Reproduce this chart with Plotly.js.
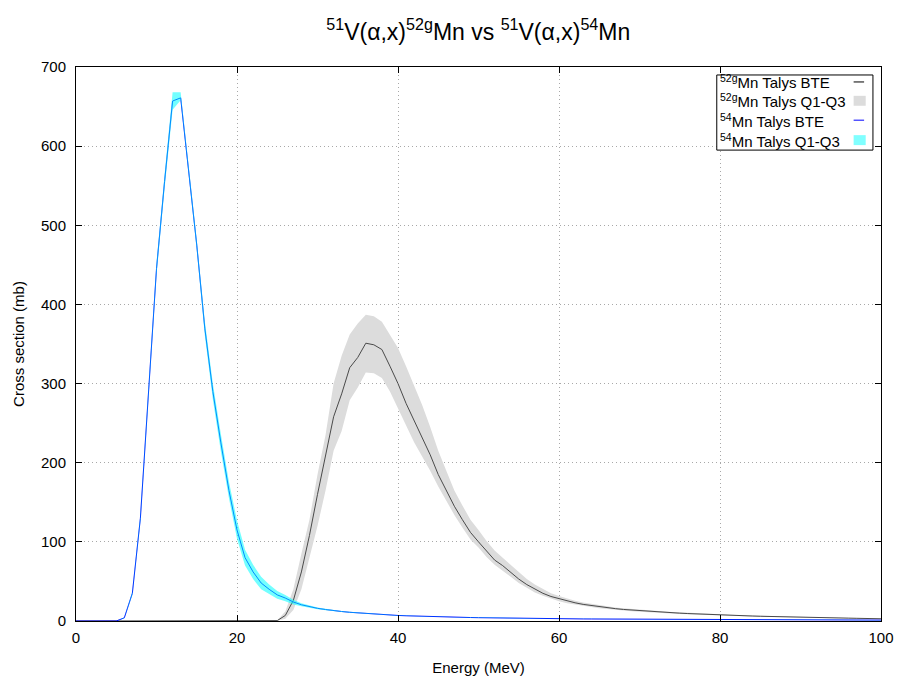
<!DOCTYPE html>
<html>
<head>
<meta charset="utf-8">
<script src="https://cdn.plot.ly/plotly-3.0.1.min.js"></script>
<style>html,body{margin:0;padding:0;background:#fff;}#chart{width:899px;height:679px;}</style>
</head>
<body>
<div id="chart"></div>
<script>
// Energy grid (MeV)
const energy = [];
for (let e = 0; e <= 100; e++) energy.push(e);

// 54Mn Talys BTE (mb), 0..100 MeV
const mn54_bte = [0,0,0,0,0,0,4,35,130,290,
  445,555,657,661,570,475,370,290,225,165,
  115,80,62,48,40,33,29,24,20.5,18,
  16,14.5,13,12,11,10.2,9.5,8.8,8.2,7.6,
  7.0,6.6,6.2,5.9,5.6,5.3,5.0,4.8,4.6,4.4,
  4.2,4.0,3.85,3.7,3.55,3.4,3.3,3.2,3.1,3.0,
  2.9,2.8,2.7,2.6,2.55,2.5,2.4,2.35,2.3,2.2,
  2.15,2.1,2.05,2.0,1.95,1.9,1.85,1.8,1.75,1.7,
  1.65,1.6,1.58,1.55,1.52,1.5,1.47,1.44,1.41,1.38,
  1.35,1.32,1.3,1.28,1.26,1.24,1.22,1.2,1.18,1.16,1.14];
const mn54_q1 = [0,0,0,0,0,0,3.5,33,126,284,
  437,546,646,658,564,468,361,280,214,155,
  104,70,53,40,34,28,25,21,18.5,16.5,
  15,13.6,12.2,11.3,10.4,9.6,9.0,8.3,7.8,7.2,
  6.6,6.2,5.9,5.6,5.3,5.0,4.75,4.55,4.35,4.2,
  4.0,3.8,3.65,3.5,3.35,3.2,3.1,3.0,2.9,2.85,
  2.75,2.65,2.55,2.45,2.4,2.35,2.25,2.2,2.15,2.1,
  2.05,2.0,1.95,1.9,1.85,1.8,1.75,1.7,1.65,1.6,
  1.55,1.5,1.48,1.45,1.42,1.4,1.38,1.35,1.32,1.3,
  1.27,1.25,1.22,1.2,1.18,1.16,1.14,1.12,1.1,1.08,1.06];
const mn54_q3 = [0,0,0,0,0,0,4.5,37,134,296,
  453,564,668,668,576,482,379,300,236,176,
  127,90,71,56,46,38,33,27,22.5,19.5,
  17,15.4,13.8,12.7,11.6,10.8,10.0,9.3,8.6,8.0,
  7.4,7.0,6.5,6.2,5.9,5.6,5.25,5.05,4.85,4.6,
  4.4,4.2,4.05,3.9,3.75,3.6,3.5,3.4,3.3,3.15,
  3.05,2.95,2.85,2.75,2.7,2.65,2.55,2.5,2.45,2.3,
  2.25,2.2,2.15,2.1,2.05,2.0,1.95,1.9,1.85,1.8,
  1.75,1.7,1.68,1.65,1.62,1.6,1.56,1.53,1.5,1.46,
  1.43,1.4,1.38,1.36,1.34,1.32,1.3,1.28,1.26,1.24,1.22];

// 52gMn Talys BTE (mb), 0..100 MeV
const mn52g_bte = [0,0,0,0,0,0,0,0,0,0,
  0,0,0,0,0,0,0,0,0,0,
  0,0,0,0,0,0.5,7,26,62,108,
  160,208,258,287,320,333,351,349,343,322,
  300,275,254,232,210,185,164,145,128,112,
  100,88,77,70,61,53,46,40,35,31,
  28,25,23,21,19.5,18,16.8,15.6,14.6,13.8,
  13,12.3,11.6,11,10.4,9.9,9.4,8.9,8.4,8.0,
  7.6,7.2,6.9,6.6,6.3,6.0,5.7,5.4,5.2,5.0,
  4.8,4.6,4.4,4.2,4.0,3.8,3.6,3.4,3.2,3.0,2.8];
const mn52g_q1 = [0,0,0,0,0,0,0,0,0,0,
  0,0,0,0,0,0,0,0,0,0,
  0,0,0,0,0,0.3,3,14,40,80,
  120,165,215,240,279,295,314,313,307,290,
  268,246,226,208,190,170,151,134,118,103,
  93,81,71,64,56,48,42,36,32,28,
  25,22.5,20.7,18.9,17.5,16.2,15.1,14.0,13.1,12.4,
  11.7,11.0,10.4,9.9,9.4,8.9,8.5,8.0,7.6,7.2,
  6.8,6.5,6.2,5.9,5.7,5.4,5.1,4.9,4.7,4.5,
  4.3,4.1,4.0,3.8,3.6,3.4,3.2,3.1,2.9,2.7,2.5];
const mn52g_q3 = [0,0,0,0,0,0,0,0,0,0,
  0,0,0,0,0,0,0,0,0,0,
  0,0,0,0,0,0.8,12,40,85,128,
  185,235,300,335,362,376,387,385,378,362,
  345,322,298,273,245,215,190,165,146,128,
  115,101,89,80,70,61,53,46,40,35,
  31.5,28,25.5,23.3,21.6,20,18.6,17.2,16.1,15.2,
  14.3,13.6,12.8,12.1,11.5,10.9,10.3,9.8,9.3,8.8,
  8.4,8.0,7.6,7.3,6.9,6.6,6.3,6.0,5.7,5.5,
  5.3,5.1,4.8,4.6,4.4,4.2,4.0,3.8,3.5,3.3,3.1];

const legendLabels = [
  '<sup>52g</sup>Mn Talys BTE',
  '<sup>52g</sup>Mn Talys Q1-Q3',
  '<sup>54</sup>Mn Talys BTE',
  '<sup>54</sup>Mn Talys Q1-Q3'
];

const FONT = 'Liberation Sans, Arial, sans-serif';

const traces = [
  {x: energy, y: mn52g_q1, mode: 'lines', line: {width: 0, color: 'rgba(0,0,0,0)'}, showlegend: false, hoverinfo: 'skip'},
  {x: energy, y: mn52g_q3, mode: 'lines', fill: 'tonexty', fillcolor: '#dcdcdc', line: {width: 0, color: 'rgba(0,0,0,0)'}, showlegend: false, name: legendLabels[1]},
  {x: energy, y: mn52g_bte, mode: 'lines', line: {width: 1, color: '#4a4a4a'}, showlegend: false, name: legendLabels[0]},
  {x: energy, y: mn54_bte, mode: 'lines', line: {width: 1, color: '#0000ff'}, showlegend: false, name: legendLabels[2]},
  {x: energy, y: mn54_q1, mode: 'lines', line: {width: 0, color: 'rgba(0,0,0,0)'}, showlegend: false, hoverinfo: 'skip'},
  {x: energy, y: mn54_q3, mode: 'lines', fill: 'tonexty', fillcolor: 'rgba(0,255,255,0.55)', line: {width: 0, color: 'rgba(0,0,0,0)'}, showlegend: false, name: legendLabels[3]}
];

// custom gnuplot-style legend (text left, sample right)
const lgX0 = 0.796, lgX1 = 0.990, lgY0 = 0.850, lgY1 = 0.9856;
const rowY = [0.973, 0.939, 0.904, 0.868];
const shapes = [
  {type: 'rect', xref: 'paper', yref: 'paper', x0: lgX0, x1: lgX1, y0: lgY0, y1: lgY1, line: {color: '#000', width: 1}, fillcolor: '#fff', layer: 'above'},
  {type: 'line', xref: 'paper', yref: 'paper', x0: 0.966, x1: 0.979, y0: rowY[0], y1: rowY[0], line: {color: '#000', width: 1}, layer: 'above'},
  {type: 'rect', xref: 'paper', yref: 'paper', x0: 0.966, x1: 0.981, y0: rowY[1]-0.009, y1: rowY[1]+0.009, line: {width: 0}, fillcolor: '#dcdcdc', layer: 'above'},
  {type: 'line', xref: 'paper', yref: 'paper', x0: 0.966, x1: 0.979, y0: rowY[2], y1: rowY[2], line: {color: '#0000ff', width: 1}, layer: 'above'},
  {type: 'rect', xref: 'paper', yref: 'paper', x0: 0.966, x1: 0.981, y0: rowY[3]-0.009, y1: rowY[3]+0.009, line: {width: 0}, fillcolor: '#80ffff', layer: 'above'}
];
const annotations = legendLabels.map((t, i) => ({
  xref: 'paper', yref: 'paper', x: 0.797, y: rowY[i], xanchor: 'left', yanchor: 'middle',
  text: t, showarrow: false, font: {family: FONT, size: 15, color: '#000'}
}));

const axisCommon = {
  showline: true, linecolor: '#000', linewidth: 1, mirror: 'ticks',
  ticks: 'inside', ticklen: 6, tickcolor: '#000', tickwidth: 1,
  showgrid: true, gridcolor: '#a8a8a8', griddash: '1px,3px', gridwidth: 1,
  zeroline: false,
  tickfont: {family: FONT, size: 15, color: '#000'}
};

const layout = {
  width: 899, height: 679,
  margin: {l: 76, r: 18, t: 67, b: 58},
  paper_bgcolor: '#fff', plot_bgcolor: '#fff',
  title: {text: '<sup>51</sup>V(α,x)<sup>52g</sup>Mn vs <sup>51</sup>V(α,x)<sup>54</sup>Mn',
          font: {family: FONT, size: 23, color: '#000'},
          x: 0.532, xanchor: 'center', y: 0.953, yanchor: 'middle'},
  xaxis: Object.assign({}, axisCommon, {range: [0, 100], tick0: 0, dtick: 20, ticklabelstandoff: 3,
    title: {text: 'Energy (MeV)', font: {family: FONT, size: 15, color: '#000'}, standoff: 17}}),
  yaxis: Object.assign({}, axisCommon, {range: [0, 700], tick0: 0, dtick: 100, ticklabelstandoff: 6,
    title: {text: 'Cross section (mb)', font: {family: FONT, size: 15, color: '#000'}, standoff: 12}}),
  shapes: shapes,
  annotations: annotations,
  showlegend: false
};

Plotly.newPlot('chart', traces, layout, {staticPlot: true, displayModeBar: false});
</script>
</body>
</html>
